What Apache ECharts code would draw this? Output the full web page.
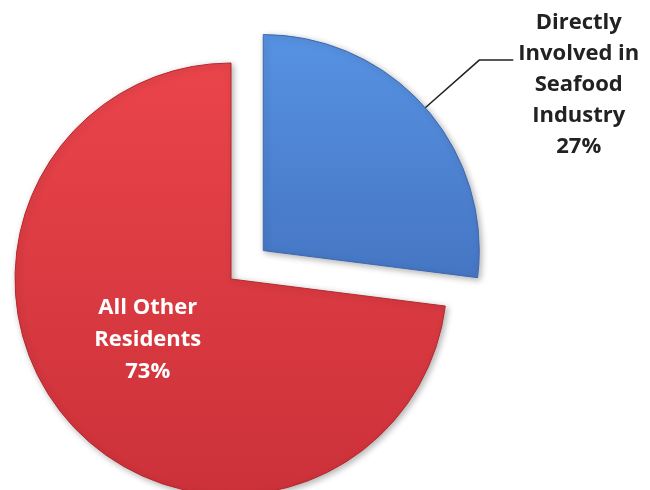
<!DOCTYPE html>
<html>
<head>
<meta charset="utf-8">
<script src="https://cdn.jsdelivr.net/npm/echarts@6/dist/echarts.min.js"></script>
<style>
  html, body { margin: 0; padding: 0; background: #fff; }
  #chart { width: 650px; height: 490px; }
</style>
</head>
<body>
<div id="chart"></div>
<script>
// Share of residents by involvement in the seafood industry
const categories = ['Directly Involved in Seafood Industry', 'All Other Residents'];
const labelLines = [
  ['Directly', 'Involved in', 'Seafood', 'Industry'],
  ['All Other', 'Residents']
];
const shares = [27, 73];

const sliceFills = [
  new echarts.graphic.LinearGradient(0, 0, 0, 1, [
    { offset: 0, color: '#5792e2' },
    { offset: 1, color: '#4576c4' }
  ]),
  new echarts.graphic.LinearGradient(0, 0, 0, 1, [
    { offset: 0, color: '#ea444b' },
    { offset: 1, color: '#cc3139' }
  ])
];
const edgeColors = ['#3d69ad', '#b52a30'];
const labelFont = { fontSize: 22, fontWeight: 'bold', fontFamily: 'Open Sans', align: 'center' };

function labelText(i) {
  return labelLines[i].map(s => '{t|' + s + '}').join('\n') + '\n{t|' + shares[i] + '%}';
}

const data = categories.map((name, i) => ({
  name: name,
  value: shares[i],
  selected: i === 0,
  itemStyle: {
    color: sliceFills[i],
    borderColor: edgeColors[i],
    borderWidth: 1
  },
  label: i === 0 ? {
    position: 'outside',
    color: '#222',
    padding: [49, 0, 0, 0],
    rich: { t: Object.assign({ color: '#222', lineHeight: 31 }, labelFont) }
  } : {
    position: 'inside',
    color: '#fff',
    padding: [0, 0, 26, 0],
    rich: { t: Object.assign({ color: '#fff', lineHeight: 32 }, labelFont) }
  },
  labelLine: i === 0
    ? { show: true, length: 72, length2: 34, lineStyle: { color: '#222', width: 1.5 } }
    : { show: false }
}));

const chart = echarts.init(document.getElementById('chart'), null, { renderer: 'canvas' });
chart.setOption({
  animation: false,
  backgroundColor: '#fff',
  series: [{
    type: 'pie',
    center: [231, 279],
    radius: 216,
    startAngle: 90,
    clockwise: true,
    selectedMode: 'single',
    selectedOffset: 43,
    avoidLabelOverlap: false,
    emphasis: { disabled: true },
    itemStyle: {
      shadowBlur: 6,
      shadowOffsetX: 2,
      shadowOffsetY: 2,
      shadowColor: 'rgba(0,0,0,0.3)'
    },
    label: {
      show: true,
      formatter: p => labelText(p.dataIndex)
    },
    data: data
  }]
});
</script>
</body>
</html>
